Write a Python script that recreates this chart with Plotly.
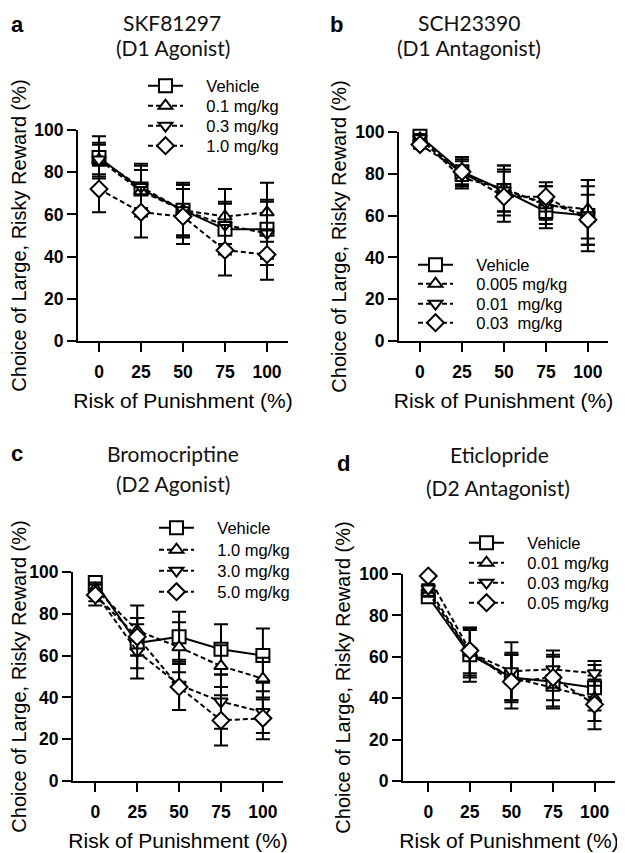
import plotly.graph_objects as go

# page body has an 8px margin, so the figure is drawn 8px in from the window edge
OFF = 8
FW, FH = 625 - OFF, 853 - OFF

risk = [0, 25, 50, 75, 100]
x_ticks = [0, 25, 50, 75, 100]
y_ticks = [0, 20, 40, 60, 80, 100]

# Panel a: SKF81297 (D1 Agonist)
a_names = ["Vehicle", "0.1 mg/kg", "0.3 mg/kg", "1.0 mg/kg"]
a_vals = [[87, 72, 62, 53, 53], [86, 71, 62, 59, 61], [86, 73, 62, 55, 51], [72, 61, 59, 43, 41]]
a_errs = [[10, 9, 12, 12, 14], [8, 12, 13, 13, 14], [7, 11, 12, 11, 15], [11, 12, 13, 12, 12]]

# Panel b: SCH23390 (D1 Antagonist)
b_names = ["Vehicle", "0.005 mg/kg", "0.01\u00a0\u00a0mg/kg", "0.03\u00a0\u00a0mg/kg"]
b_vals = [[98, 81, 72, 62, 60], [97, 78, 73, 65, 63], [97, 80, 72, 66, 60], [94, 81, 69, 69, 58]]
b_errs = [[2, 6, 10, 8, 14], [2, 5, 11, 9, 14], [2, 6, 12, 8, 17], [2, 7, 12, 7, 12]]

# Panel c: Bromocriptine (D2 Agonist)
c_names = ["Vehicle", "1.0 mg/kg", "3.0 mg/kg", "5.0 mg/kg"]
c_vals = [[95, 66, 69, 63, 60], [92, 72, 64, 55, 49], [90, 62, 46, 38, 33], [89, 69, 45, 29, 30]]
c_errs = [[2, 12, 12, 12, 13], [3, 12, 12, 10, 10], [4, 13, 12, 13, 10], [5, 9, 11, 12, 10]]

# Panel d: Eticlopride (D2 Antagonist)
d_names = ["Vehicle", "0.01 mg/kg", "0.03 mg/kg", "0.05 mg/kg"]
d_vals = [[89, 61, 50, 48, 45], [91, 62, 50, 45, 40], [93, 62, 53, 54, 52], [99, 63, 48, 50, 37]]
d_errs = [[2, 13, 12, 12, 11], [2, 11, 11, 10, 11], [2, 12, 14, 9, 6], [1, 11, 13, 11, 12]]

symbols = ["square", "triangle-up", "triangle-down", "diamond"]
msizes = [13, 12, 12, 13]
dashes = ["solid", "5px,3px", "5px,3px", "5px,3px"]

TICKFONT = dict(family="Liberation Sans, Arial", size=17.5, color="black", weight=700)
XTITLEFONT = dict(family="Liberation Sans, Arial", size=21, color="black")
YTITLEFONT = dict(family="Liberation Sans, Arial", size=20, color="black")
HEADFONT = dict(family="Lato, Open Sans", size=21, color="#111")
LEGFONT = dict(family="Liberation Sans, Arial", size=16.5, color="black")
GAP = "\u00a0\u00a0\u00a0\u00a0"

def X(px):
    return (px - OFF) / FW

def Y(py):
    return 1 - (py - OFF) / FH

panels = [
    # names, vals, errs, x-dom px, y-dom px, x-range, legend line-start px, legend row centres px
    (a_names, a_vals, a_errs, (78, 288), (130, 341), [-12.5, 112.5], 149, [86, 106, 126, 146]),
    (b_names, b_vals, b_errs, (399, 608), (132, 341), [-12.5, 112], 419, [265, 284, 304, 323]),
    (c_names, c_vals, c_errs, (73, 283), (572, 781), [-13.3, 112], 160, [528, 550, 571, 592]),
    (d_names, d_vals, d_errs, (403, 615), (574, 781), [-15.2, 112.3], 470, [543, 563, 583, 603]),
]

fig = go.Figure()
layout = dict(
    width=FW, height=FH, margin=dict(l=0, r=0, t=0, b=0, autoexpand=False),
    paper_bgcolor="white", plot_bgcolor="white", showlegend=True,
)

for i, (names, vals, errs, xd, yd, xr, lx, rows) in enumerate(panels):
    n = i + 1
    xa = "x" if n == 1 else f"x{n}"
    ya = "y" if n == 1 else f"y{n}"
    for k in range(4):
        li = 4 * i + k + 1
        leg = "legend" if li == 1 else f"legend{li}"
        fig.add_trace(go.Scatter(
            x=risk, y=vals[k], name=GAP + names[k], xaxis=xa, yaxis=ya, legend=leg,
            mode="lines+markers", cliponaxis=False,
            line=dict(color="black", width=2, dash=dashes[k]),
            marker=dict(symbol=symbols[k], size=msizes[k], color="white",
                        line=dict(color="black", width=2)),
            error_y=dict(type="data", array=errs[k], visible=True,
                         color="black", thickness=2, width=7),
        ))
        layout[leg] = dict(
            x=X(lx - 6), y=Y(rows[k]), xanchor="left", yanchor="middle",
            bgcolor="rgba(0,0,0,0)", borderwidth=0, font=LEGFONT,
            itemwidth=35, tracegroupgap=0,
        )
    axkey = "xaxis" if n == 1 else f"xaxis{n}"
    aykey = "yaxis" if n == 1 else f"yaxis{n}"
    layout[axkey] = dict(
        domain=[X(xd[0]), X(xd[1])], range=xr, anchor=ya, automargin=False,
        tickvals=x_ticks, ticks="outside", ticklen=9, tickwidth=2, tickcolor="black",
        ticklabelstandoff=5,
        showline=True, linewidth=2, linecolor="black", showgrid=False, zeroline=False,
        tickfont=TICKFONT,
        title=dict(text="Risk of Punishment (%)", font=XTITLEFONT, standoff=12),
    )
    layout[aykey] = dict(
        domain=[Y(yd[1]), Y(yd[0])], range=[0, 100], anchor=xa, automargin=False,
        tickvals=y_ticks, ticks="outside", ticklen=9, tickwidth=2, tickcolor="black",
        showline=True, linewidth=2, linecolor="black", showgrid=False, zeroline=False,
        tickfont=TICKFONT,
        title=dict(text="Choice of Large, Risky Reward (%)", font=YTITLEFONT, standoff=3),
    )

heads = [
    ("SKF81297", 172, 23), ("(D1 Agonist)", 173, 47),
    ("SCH23390", 469, 23), ("(D1 Antagonist)", 469, 47),
    ("Bromocriptine", 173, 453), ("(D2 Agonist)", 173, 484),
    ("Eticlopride", 499, 455), ("(D2 Antagonist)", 498, 487),
]
letters = [("a", 17, 24), ("b", 336, 24), ("c", 17, 453), ("d", 343, 463)]

ann = []
for t, px, py in heads:
    ann.append(dict(text=t, x=X(px), y=Y(py), xref="paper", yref="paper",
                    xanchor="center", yanchor="middle", showarrow=False, font=HEADFONT))
for t, px, py in letters:
    ann.append(dict(text=f"<b>{t}</b>", x=X(px), y=Y(py), xref="paper", yref="paper",
                    xanchor="center", yanchor="middle", showarrow=False,
                    font=dict(family="Liberation Sans, Arial", size=22, color="black")))
layout["annotations"] = ann

fig.update_layout(**layout)
fig.write_html("out.html")
